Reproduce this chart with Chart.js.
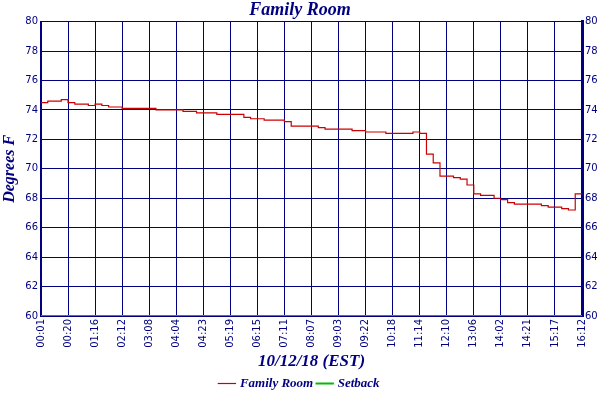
<!DOCTYPE html>
<html>
<head>
<meta charset="utf-8">
<script src="https://cdn.jsdelivr.net/npm/chart.js@4"></script>
<style>
  body { margin: 0; background: #fff; }
  #wrap { width: 600px; height: 400px; }
</style>
</head>
<body>
<div id="wrap"><canvas id="c"></canvas></div>
<script>
// time labels shown at every 4th sample
var timeLabels = ['00:01','00:20','01:16','02:12','03:08','04:04','04:23','05:19','06:15','07:11','08:07',
                  '09:03','09:22','10:18','11:14','12:10','13:06','14:02','14:21','15:17','16:12'];

// family room temperature (deg F), 4 samples per label interval
var familyRoom = [
  74.5, 74.6, 74.6, 74.7, 74.5, 74.4, 74.4, 74.3, 74.4, 74.3,
  74.2, 74.2, 74.1, 74.1, 74.1, 74.1, 74.1, 74.0, 74.0, 74.0,
  74.0, 73.9, 73.9, 73.8, 73.8, 73.8, 73.7, 73.7, 73.7, 73.7,
  73.5, 73.4, 73.4, 73.3, 73.3, 73.3, 73.2, 72.9, 72.9, 72.9,
  72.9, 72.8, 72.7, 72.7, 72.7, 72.7, 72.6, 72.6, 72.5, 72.5,
  72.5, 72.4, 72.4, 72.4, 72.4, 72.5, 72.4, 71.0, 70.4, 69.5,
  69.5, 69.4, 69.3, 68.9, 68.3, 68.2, 68.2, 68.0, 67.9, 67.7,
  67.6, 67.6, 67.6, 67.6, 67.5, 67.4, 67.4, 67.3, 67.2, 68.3,
  68.3
];

// setback temperature (deg F)
var setback = [60, 60];
var setbackX = [0, 80];

var navy = '#000080';
var frPts = familyRoom.map(function(v, i){ return {x: i, y: v}; });
var sbPts = setback.map(function(v, i){ return {x: setbackX[i], y: v}; });

new Chart(document.getElementById('c'), {
  type: 'line',
  data: {
    datasets: [{
      label: 'Family Room',
      data: frPts,
      borderColor: '#cc0000',
      backgroundColor: '#cc0000',
      borderWidth: 1.2,
      pointRadius: 0,
      stepped: true
    }, {
      label: 'Setback',
      data: sbPts,
      borderColor: '#00bb00',
      backgroundColor: '#00bb00',
      borderWidth: 2,
      pointRadius: 0
    }]
  },
  options: {
    responsive: true,
    maintainAspectRatio: false,
    animation: false,
    layout: { padding: 0 },
    plugins: {
      title: {
        display: true,
        text: 'Family Room',
        color: navy,
        font: { family: 'Liberation Serif', size: 18, style: 'italic', weight: 'bold' },
        padding: { top: 0, bottom: 0 }
      },
      legend: {
        position: 'bottom',
        labels: {
          color: navy,
          usePointStyle: true,
          pointStyle: 'line',
          boxWidth: 14,
          padding: 5,
          font: { family: 'Liberation Serif', size: 13, style: 'italic', weight: 'bold' }
        }
      },
      tooltip: { enabled: false }
    },
    scales: {
      x: {
        type: 'linear',
        min: 0, max: 80,
        ticks: {
          stepSize: 4,
          padding: 3,
          minRotation: 90, maxRotation: 90,
          color: navy,
          font: { family: 'DejaVu Sans', size: 10 },
          callback: function(v){ return timeLabels[v / 4]; }
        },
        grid: { color: navy, lineWidth: 1, drawTicks: false },
        border: { color: navy, width: 2 },
        title: {
          display: true,
          text: '10/12/18 (EST)',
          color: navy,
          padding: { top: 0, bottom: 0 },
          font: { family: 'Liberation Serif', size: 17, style: 'italic', weight: 'bold' }
        },
        afterFit: function(s){ s.height = 56; }
      },
      y: {
        min: 60, max: 80,
        ticks: { stepSize: 2, color: navy, padding: 3, font: { family: 'DejaVu Sans', size: 10 } },
        grid: { color: navy, lineWidth: 1, drawTicks: false },
        border: { color: navy, width: 2 },
        title: {
          display: true,
          text: 'Degrees F',
          color: navy,
          padding: 0,
          font: { family: 'Liberation Serif', size: 16, style: 'italic', weight: 'bold' }
        },
        afterFit: function(s){ s.width = 41; }
      },
      y2: {
        position: 'right',
        min: 60, max: 80,
        ticks: { stepSize: 2, color: navy, padding: 3, font: { family: 'DejaVu Sans', size: 10 } },
        grid: { display: false, drawTicks: false },
        border: { color: navy, width: 3 },
        afterFit: function(s){ s.width = 18; }
      }
    }
  }
});
</script>
</body>
</html>
